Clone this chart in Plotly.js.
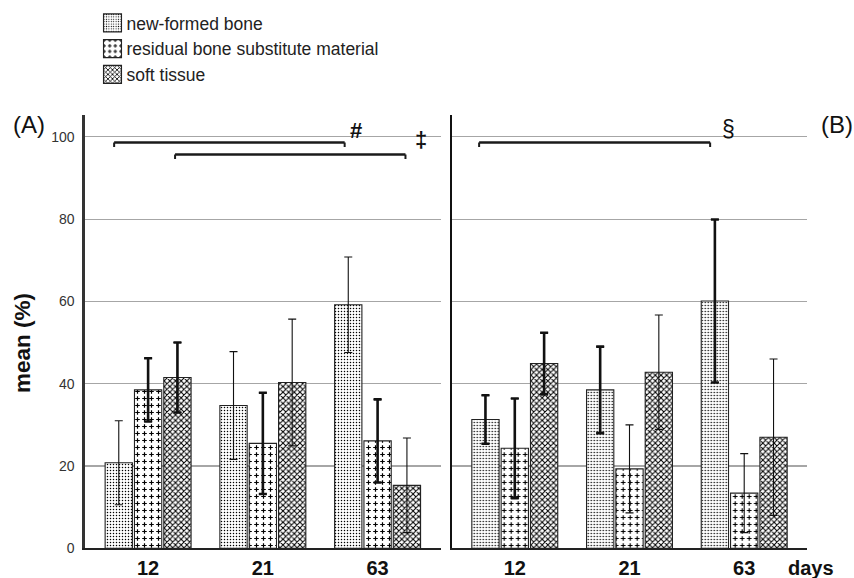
<!DOCTYPE html>
<html><head><meta charset="utf-8">
<script src="https://cdn.plot.ly/plotly-3.0.1.min.js"></script>
<style>html,body{margin:0;padding:0;background:#fff}#chart{width:854px;height:578px}</style>
</head><body><div id="chart"></div>
<script>
// ---- data ----
const days = ['12', '21', '63'];
const seriesNames = ['new-formed bone', 'residual bone substitute material', 'soft tissue'];
// Panel A
const A_newBone = [20.8, 34.7, 59.2];
const A_newBoneSD = [10.2, 13.1, 11.6];
const A_residual = [38.5, 25.5, 26.1];
const A_residualSD = [7.7, 12.3, 10.1];
const A_soft = [41.5, 40.3, 15.3];
const A_softSD = [8.5, 15.4, 11.5];
// Panel B
const B_newBone = [31.3, 38.5, 60.1];
const B_newBoneSD = [5.9, 10.5, 19.8];
const B_residual = [24.3, 19.3, 13.4];
const B_residualSD = [12.1, 10.7, 9.6];
const B_soft = [44.9, 42.8, 27.0];
const B_softSD = [7.5, 13.9, 19.0];
const yTicks = [0, 20, 40, 60, 80, 100];

// ---- styles ----
const W = 854, H = 578;
const px = v => v / W, py = v => 1 - v / H;
const FONT = 'Arial, "Liberation Sans", sans-serif';
const patterns = [
  {shape: '.', size: 3, solidity: 0.2, fgcolor: '#000', bgcolor: '#fff'},
  {shape: '+', size: 7, solidity: 0.17, fgcolor: '#000', bgcolor: '#fff'},
  {shape: 'x', size: 4, solidity: 0.45, fgcolor: '#000', bgcolor: '#fff'}
];
// which error bars are drawn heavy (style only)
const heavyA = [[0,0,0],[1,1,1],[1,0,0]];
const heavyB = [[1,1,1],[1,0,0],[1,0,0]];

const panels = [
  {xa: 'x', ya: 'y', vals: [A_newBone, A_residual, A_soft], sds: [A_newBoneSD, A_residualSD, A_softSD], heavy: heavyA, legend: true},
  {xa: 'x2', ya: 'y2', vals: [B_newBone, B_residual, B_soft], sds: [B_newBoneSD, B_residualSD, B_softSD], heavy: heavyB, legend: false}
];

const traces = [];
panels.forEach(p => {
  p.vals.forEach((v, i) => {
    traces.push({
      type: 'bar', x: days, y: v, xaxis: p.xa, yaxis: p.ya,
      name: seriesNames[i], showlegend: p.legend, legendgroup: 'g' + i,
      offsetgroup: 'o' + i,
      marker: {color: '#fff', pattern: patterns[i], line: {color: '#222', width: 1.1}},
      error_y: {type: 'data', array: p.sds[i], visible: true, color: '#111', thickness: 1.1, width: 4},
      hoverinfo: 'skip'
    });
  });
});
panels.forEach(p => {
  p.vals.forEach((v, i) => {
    traces.push({
      type: 'bar', x: days, y: v.map((val, k) => p.heavy[i][k] ? val : null),
      xaxis: p.xa, yaxis: p.ya, showlegend: false, offsetgroup: 'o' + i,
      marker: {color: 'rgba(0,0,0,0)', line: {width: 0}},
      error_y: {type: 'data', array: p.sds[i], visible: true, color: '#111', thickness: 2.6, width: 4},
      hoverinfo: 'skip'
    });
  });
});

const yBase = {
  range: [0, 105.3], tickvals: yTicks, showgrid: true, gridcolor: '#a6a6a6', gridwidth: 1.2,
  zeroline: false, ticks: '', fixedrange: true
};
const xBase = {
  type: 'category', range: [-0.55, 2.55], showline: true, linecolor: '#222', linewidth: 1.6,
  ticks: '', showgrid: false, zeroline: false,
  tickfont: {family: FONT, size: 20, color: '#111', weight: 700}, ticklabelstandoff: 1
};

const bracket = (xr, yr, x0, x1, y, drop) => [
  {type: 'line', xref: xr, yref: yr, x0: x0, x1: x1, y0: y, y1: y, line: {color: '#1a1a1a', width: 2.6}},
  {type: 'line', xref: xr, yref: yr, x0: x0, x1: x0, y0: y, y1: y - drop, line: {color: '#1a1a1a', width: 2}},
  {type: 'line', xref: xr, yref: yr, x0: x1, x1: x1, y0: y, y1: y - drop, line: {color: '#1a1a1a', width: 2}}
];

const ann = (text, x, y, size, extra) => Object.assign({
  text: text, xref: 'paper', yref: 'paper', x: px(x), y: py(y), xanchor: 'center', yanchor: 'middle',
  showarrow: false, font: {family: FONT, size: size, color: '#111'}
}, extra || {});

const layout = {
  width: W, height: H, margin: {l: 0, r: 0, t: 0, b: 0},
  paper_bgcolor: '#fff', plot_bgcolor: '#fff',
  font: {family: FONT, color: '#222'},
  barmode: 'group', bargap: 0.233, bargroupgap: 0.07,
  xaxis: Object.assign({}, xBase, {domain: [px(85), px(440.7)], anchor: 'y'}),
  xaxis2: Object.assign({}, xBase, {domain: [px(451.7), px(807.3)], anchor: 'y2'}),
  yaxis: Object.assign({}, yBase, {domain: [py(548.3), py(115)], anchor: 'x', showline: true, linecolor: '#333', linewidth: 2.6,
    showticklabels: true, tickfont: {family: FONT, size: 14, color: '#333'}, ticklabelstandoff: 5}),
  yaxis2: Object.assign({}, yBase, {domain: [py(548.3), py(115)], anchor: 'x2', showline: true, linecolor: '#111', linewidth: 1.5,
    showticklabels: false}),
  showlegend: true,
  legend: {x: px(92.5), y: py(5), xanchor: 'left', yanchor: 'top', bgcolor: 'rgba(0,0,0,0)',
    font: {family: FONT, size: 17.5, color: '#222'}, traceorder: 'grouped', tracegroupgap: 0, itemwidth: 30},
  shapes: [].concat(
    bracket('x', 'y', -0.296, 1.713, 98.6, 1.1),
    bracket('x', 'y', 0.235, 2.243, 95.7, 1.1),
    bracket('x2', 'y2', -0.311, 1.703, 98.6, 1.1)
  ),
  annotations: [
    ann('(A)', 29, 125, 24),
    ann('(B)', 837, 125, 24),
    ann('<b>#</b>', 355.5, 130.5, 22),
    ann('<b>‡</b>', 421, 139, 22),
    ann('§', 728, 129.5, 23),
    ann('<b>mean (%)</b>', 22, 343, 22.5, {textangle: -90}),
    ann('<b>days</b>', 811, 568, 20)
  ]
};

Plotly.newPlot('chart', traces, layout, {displayModeBar: false, staticPlot: true}).then(gd => {
  // refine the plus pattern into separate crosses
  gd.querySelectorAll('pattern').forEach(pt => {
    if (Math.abs(parseFloat(pt.getAttribute('width')) - 7) < 0.01) {
      const path = pt.querySelector('path');
      if (path) {
        path.setAttribute('d', 'M3.5,1.2V5.8M1.2,3.5H5.8');
        path.setAttribute('stroke-width', '1.2px');
        path.style.strokeWidth = '1.2px';
      }
    }
  });
  // larger legend swatches, text closer
  gd.querySelectorAll('.legendpoints path').forEach(p => p.setAttribute('d', 'M9,9H-9V-9H9Z'));
  gd.querySelectorAll('.legendtext').forEach(t => t.setAttribute('x', 34));
});
</script>
</body></html>
